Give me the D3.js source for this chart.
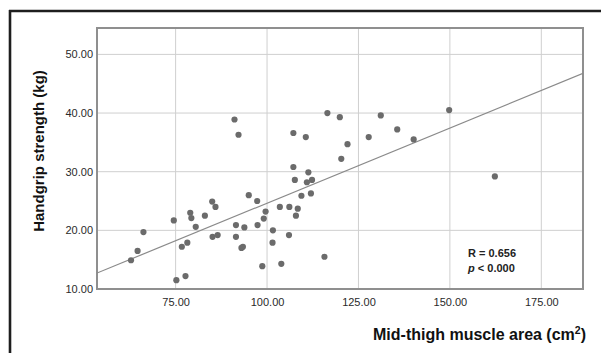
<!DOCTYPE html>
<html><head><meta charset="utf-8">
<script src="https://cdn.jsdelivr.net/npm/d3@7"></script>
<style>
html,body{margin:0;padding:0;background:#fff;}
svg{display:block;font-family:"Liberation Sans",Arial,sans-serif;}
</style></head>
<body>
<script>
// Mid-thigh muscle area (cm²)
const muscleArea = [62.8,64.6,66.2,74.5,75.2,77.7,76.7,78.2,79.0,79.3,80.5,83.0,85.0,85.9,85.1,86.5,
  91.5,91.5,93.0,93.4,93.8,95.0,97.3,97.4,98.7,99.1,99.6,101.6,101.5,103.5,103.9,106.1,106.0,
  107.6,107.9,108.4,109.4,110.9,112.0,112.3,115.7,91.1,92.2,107.2,110.6,116.5,119.9,122.0,120.3,
  127.8,131.1,107.2,111.3,135.6,140.1,149.8,162.3];
// Handgrip strength (kg)
const gripStrength = [14.9,16.5,19.7,21.7,11.5,12.2,17.2,17.9,23.0,22.1,20.6,22.5,24.9,24.0,18.9,19.2,
  20.9,18.9,17.0,17.2,20.5,26.0,25.0,20.9,13.9,22.0,23.2,20.0,17.9,24.0,14.3,24.0,19.2,
  28.6,22.5,23.7,25.9,28.2,26.3,28.6,15.5,38.9,36.3,36.6,35.9,40.0,39.3,34.7,32.2,
  35.9,39.6,30.8,29.9,37.2,35.5,40.5,29.2];
// Fit line endpoints (x at axis limits, predicted y)
const fitX = [53.5, 186.4];
const fitY = [12.72, 46.77];
const xTicks = [75,100,125,150,175];
const yTicks = [10,20,30,40,50];
const xDomain = [53.5, 186.4];
const yDomain = [10, 54.5];
const statLines = ["R = 0.656", "p < 0.000"];

const W = 601, H = 353;
const m = {left:97, top:28, right:583, bottom:289};
const svg = d3.select("body").append("svg").attr("width",W).attr("height",H);

// outer frame (left & top)
svg.append("line").attr("x1",10).attr("x2",10).attr("y1",10).attr("y2",H).attr("stroke","#1e1e1e").attr("stroke-width",2.6);
svg.append("line").attr("x1",9).attr("x2",W).attr("y1",11).attr("y2",11).attr("stroke","#1e1e1e").attr("stroke-width",2.6);

const x = d3.scaleLinear().domain(xDomain).range([m.left, m.right]);
const y = d3.scaleLinear().domain(yDomain).range([m.bottom, m.top]);

// gridlines
const g = svg.append("g");
g.selectAll(".vx").data(xTicks).join("line")
  .attr("x1",d=>x(d)).attr("x2",d=>x(d)).attr("y1",m.top).attr("y2",m.bottom)
  .attr("stroke","#cfcfcf").attr("stroke-width",1);
g.selectAll(".hy").data(yTicks).join("line")
  .attr("x1",m.left).attr("x2",m.right).attr("y1",d=>y(d)).attr("y2",d=>y(d))
  .attr("stroke","#cfcfcf").attr("stroke-width",1);

// axes (labels only)
const xAxis = svg.append("g").attr("transform",`translate(0,${m.bottom})`)
  .call(d3.axisBottom(x).tickValues(xTicks).tickFormat(d3.format(".2f")).tickSize(0).tickPadding(9));
const yAxis = svg.append("g").attr("transform",`translate(${m.left},0)`)
  .call(d3.axisLeft(y).tickValues(yTicks).tickFormat(d3.format(".2f")).tickSize(0).tickPadding(4));
[xAxis,yAxis].forEach(a=>{
  a.select(".domain").remove();
  a.selectAll("text").attr("font-size",11).attr("fill","#2a2a2a").attr("font-family","'Liberation Sans',Arial,sans-serif");
});

// plot border
svg.append("rect").attr("x",m.left).attr("y",m.top).attr("width",m.right-m.left).attr("height",m.bottom-m.top)
  .attr("fill","none").attr("stroke","#8f8f8f").attr("stroke-width",2);

// fit line
const clipId = "clip";
svg.append("clipPath").attr("id",clipId).append("rect")
  .attr("x",m.left).attr("y",m.top).attr("width",m.right-m.left).attr("height",m.bottom-m.top);
svg.append("line").attr("clip-path",`url(#${clipId})`)
  .attr("x1",x(fitX[0])).attr("y1",y(fitY[0])).attr("x2",x(fitX[1])).attr("y2",y(fitY[1]))
  .attr("stroke","#8a8a8a").attr("stroke-width",1.2);

// points
svg.append("g").selectAll("circle").data(muscleArea.map((v,i)=>[v,gripStrength[i]])).join("circle")
  .attr("cx",d=>x(d[0])).attr("cy",d=>y(d[1])).attr("r",3.1).attr("fill","#6b6b6b");

// stats annotation
const st = svg.append("text").attr("font-size",11).attr("font-weight","bold").attr("fill","#222");
st.append("tspan").attr("x",468).attr("y",257).text(statLines[0]);
const t2 = st.append("tspan").attr("x",468).attr("y",272);
t2.append("tspan").attr("font-style","italic").text("p");
t2.append("tspan").text(" < 0.000");

// axis titles
svg.append("text").attr("transform","translate(44,151) rotate(-90)").attr("text-anchor","middle")
  .attr("font-size",15).attr("font-weight","bold").attr("fill","#111").text("Handgrip strength (kg)");
const xt = svg.append("text").attr("x",586).attr("y",340).attr("text-anchor","end")
  .attr("font-size",16).attr("font-weight","bold").attr("fill","#111");
xt.append("tspan").text("Mid-thigh muscle area (cm");
xt.append("tspan").attr("font-size",10.5).attr("dy",-6).text("2");
xt.append("tspan").attr("dy",6).text(")");
</script>
</body></html>
